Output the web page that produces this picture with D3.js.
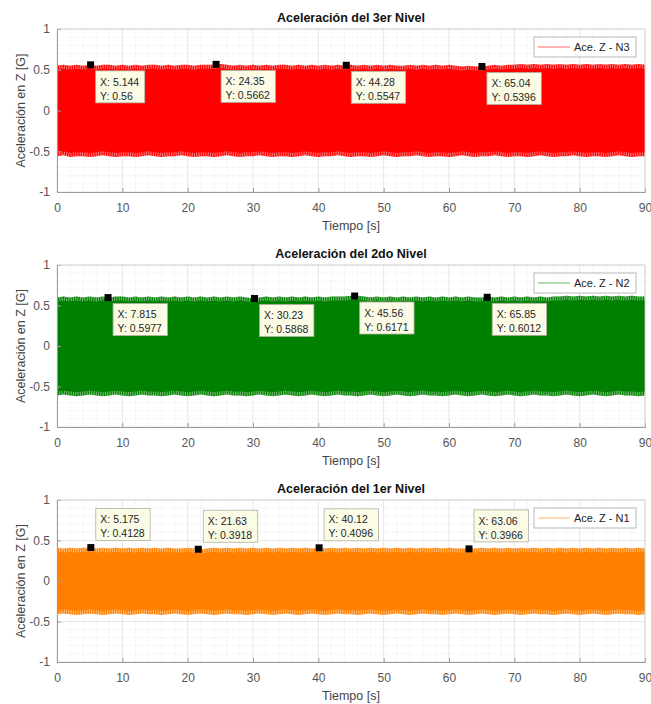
<!DOCTYPE html>
<html>
<head>
<meta charset="utf-8">
<script src="https://cdn.jsdelivr.net/npm/d3@7"></script>
<style>
  body { margin: 0; background: #fff; }
  svg text { font-family: "Liberation Sans", Arial, Helvetica, sans-serif; }
</style>
</head>
<body>
<svg id="fig" width="651" height="704"></svg>
<script>
// ---- Axis ticks and labels ----
const timeTicks = [0, 10, 20, 30, 40, 50, 60, 70, 80, 90];
const accelTicks = [-1, -0.5, 0, 0.5, 1];
const accelTickLabels = ["-1", "-0.5", "0", "0.5", "1"];
const panelTitles = ["Aceleración del 3er Nivel", "Aceleración del 2do Nivel", "Aceleración del 1er Nivel"];
const legendLabels = ["Ace. Z - N3", "Ace. Z - N2", "Ace. Z - N1"];
const xLabel = "Tiempo [s]";
const yLabel = "Aceleración en Z [G]";

// ---- Peak envelope of each record, one value per second (0..90 s) ----
const n3Upper = [
  0.55,0.56,0.55,0.56,0.55,0.56,0.55,0.56,0.56,0.55,
  0.56,0.55,0.56,0.55,0.56,0.56,0.55,0.56,0.55,0.56,
  0.56,0.55,0.56,0.56,0.56,0.57,0.56,0.55,0.56,0.55,
  0.56,0.55,0.56,0.55,0.56,0.56,0.55,0.56,0.55,0.56,
  0.55,0.56,0.55,0.56,0.55,0.56,0.55,0.56,0.55,0.56,
  0.55,0.56,0.55,0.55,0.56,0.55,0.56,0.55,0.56,0.55,
  0.56,0.55,0.54,0.55,0.54,0.54,0.55,0.56,0.55,0.56,
  0.56,0.57,0.56,0.57,0.56,0.57,0.56,0.57,0.56,0.57,
  0.56,0.57,0.56,0.57,0.56,0.57,0.56,0.57,0.56,0.57,0.56];
const n3Lower = [
  -0.56,-0.55,-0.57,-0.56,-0.56,-0.57,-0.56,-0.55,-0.56,-0.57,
  -0.56,-0.56,-0.57,-0.56,-0.55,-0.56,-0.57,-0.56,-0.56,-0.55,
  -0.56,-0.57,-0.56,-0.56,-0.57,-0.56,-0.55,-0.56,-0.57,-0.56,
  -0.56,-0.55,-0.56,-0.57,-0.56,-0.56,-0.57,-0.56,-0.55,-0.56,
  -0.57,-0.56,-0.56,-0.55,-0.56,-0.57,-0.56,-0.56,-0.57,-0.56,
  -0.55,-0.56,-0.57,-0.56,-0.56,-0.55,-0.56,-0.57,-0.56,-0.56,
  -0.57,-0.56,-0.55,-0.56,-0.57,-0.56,-0.56,-0.55,-0.56,-0.57,
  -0.56,-0.56,-0.57,-0.56,-0.55,-0.56,-0.57,-0.56,-0.56,-0.55,
  -0.56,-0.57,-0.56,-0.56,-0.57,-0.56,-0.55,-0.56,-0.57,-0.56,-0.56];
const n2Upper = [
  0.60,0.61,0.60,0.61,0.60,0.61,0.60,0.61,0.60,0.61,
  0.61,0.60,0.61,0.60,0.61,0.60,0.61,0.60,0.61,0.60,
  0.61,0.60,0.61,0.60,0.61,0.60,0.61,0.60,0.61,0.60,
  0.59,0.60,0.61,0.60,0.61,0.60,0.61,0.60,0.61,0.60,
  0.61,0.60,0.61,0.61,0.61,0.62,0.62,0.61,0.60,0.61,
  0.60,0.61,0.60,0.61,0.60,0.61,0.60,0.61,0.60,0.61,
  0.60,0.61,0.60,0.61,0.60,0.60,0.61,0.60,0.61,0.60,
  0.61,0.60,0.61,0.60,0.61,0.60,0.61,0.61,0.62,0.61,
  0.62,0.61,0.62,0.61,0.62,0.61,0.62,0.61,0.62,0.61,0.61];
const n2Lower = [
  -0.61,-0.60,-0.61,-0.62,-0.61,-0.60,-0.61,-0.62,-0.61,-0.60,
  -0.61,-0.62,-0.61,-0.60,-0.61,-0.61,-0.62,-0.61,-0.60,-0.61,
  -0.62,-0.61,-0.60,-0.61,-0.62,-0.61,-0.60,-0.61,-0.61,-0.62,
  -0.61,-0.60,-0.61,-0.62,-0.61,-0.60,-0.61,-0.62,-0.61,-0.60,
  -0.61,-0.62,-0.61,-0.60,-0.61,-0.61,-0.62,-0.61,-0.60,-0.61,
  -0.62,-0.61,-0.60,-0.61,-0.62,-0.61,-0.60,-0.61,-0.61,-0.62,
  -0.61,-0.60,-0.61,-0.62,-0.61,-0.60,-0.61,-0.62,-0.61,-0.60,
  -0.61,-0.62,-0.61,-0.60,-0.61,-0.61,-0.62,-0.61,-0.60,-0.61,
  -0.62,-0.61,-0.60,-0.61,-0.62,-0.61,-0.60,-0.61,-0.61,-0.62,-0.61];
const n1Upper = [
  0.41,0.40,0.41,0.40,0.41,0.41,0.40,0.41,0.40,0.41,
  0.40,0.41,0.40,0.41,0.40,0.41,0.40,0.41,0.40,0.40,
  0.41,0.40,0.39,0.40,0.41,0.40,0.41,0.40,0.41,0.40,
  0.41,0.40,0.41,0.40,0.41,0.40,0.41,0.40,0.41,0.40,
  0.41,0.40,0.41,0.40,0.41,0.40,0.41,0.40,0.41,0.40,
  0.41,0.40,0.41,0.40,0.41,0.40,0.41,0.40,0.41,0.40,
  0.41,0.40,0.40,0.40,0.40,0.41,0.40,0.41,0.40,0.41,
  0.40,0.41,0.40,0.41,0.40,0.41,0.40,0.41,0.40,0.41,
  0.40,0.41,0.40,0.41,0.40,0.41,0.40,0.41,0.40,0.41,0.40];
const n1Lower = [
  -0.41,-0.40,-0.41,-0.42,-0.41,-0.40,-0.41,-0.42,-0.41,-0.40,
  -0.41,-0.42,-0.41,-0.40,-0.41,-0.41,-0.42,-0.41,-0.40,-0.41,
  -0.42,-0.41,-0.40,-0.41,-0.42,-0.41,-0.40,-0.41,-0.41,-0.42,
  -0.41,-0.40,-0.41,-0.42,-0.41,-0.40,-0.41,-0.42,-0.41,-0.40,
  -0.41,-0.42,-0.41,-0.40,-0.41,-0.41,-0.42,-0.41,-0.40,-0.41,
  -0.42,-0.41,-0.40,-0.41,-0.42,-0.41,-0.40,-0.41,-0.41,-0.42,
  -0.41,-0.40,-0.41,-0.42,-0.41,-0.40,-0.41,-0.42,-0.41,-0.40,
  -0.41,-0.42,-0.41,-0.40,-0.41,-0.41,-0.42,-0.41,-0.40,-0.41,
  -0.42,-0.41,-0.40,-0.41,-0.42,-0.41,-0.40,-0.41,-0.41,-0.42,-0.41];

// ---- Data tips (peak readings) ----
const n3TipX = [5.144, 24.35, 44.28, 65.04];
const n3TipY = [0.56, 0.5662, 0.5547, 0.5396];
const n2TipX = [7.815, 30.23, 45.56, 65.85];
const n2TipY = [0.5977, 0.5868, 0.6171, 0.6012];
const n1TipX = [5.175, 21.63, 40.12, 63.06];
const n1TipY = [0.4128, 0.3918, 0.4096, 0.3966];

const seriesColors = ["#ff0000", "#008000", "#ff8000"];

const panels = [
  { title: panelTitles[0], legend: legendLabels[0], upper: n3Upper, lower: n3Lower, tipX: n3TipX, tipY: n3TipY, color: seriesColors[0], top: 29, bottom: 192, tipsAbove: false },
  { title: panelTitles[1], legend: legendLabels[1], upper: n2Upper, lower: n2Lower, tipX: n2TipX, tipY: n2TipY, color: seriesColors[1], top: 265, bottom: 427, tipsAbove: false },
  { title: panelTitles[2], legend: legendLabels[2], upper: n1Upper, lower: n1Lower, tipX: n1TipX, tipY: n1TipY, color: seriesColors[2], top: 500, bottom: 662, tipsAbove: true }
];

const svg = d3.select("#fig");
const plotLeft = 57, plotRight = 645;
const tickColor = "#555";
const axisColor = "#9a9a9a";

panels.forEach((p) => {
  const x = d3.scaleLinear().domain([0, 90]).range([plotLeft, plotRight]);
  const y = d3.scaleLinear().domain([-1, 1]).range([p.bottom, p.top]);
  const g = svg.append("g");

  // minor grid
  const minorX = d3.range(0, 91, 2).filter(v => v % 10 !== 0);
  const minorY = d3.range(-10, 11).map(v => v / 10).filter(v => Math.abs(v * 2 - Math.round(v * 2)) > 1e-9);
  g.append("g").selectAll("line").data(minorX).join("line")
    .attr("x1", d => x(d)).attr("x2", d => x(d)).attr("y1", p.top).attr("y2", p.bottom)
    .attr("stroke", "#ececec").attr("stroke-width", 0.8).attr("stroke-dasharray", "1.5 1");
  g.append("g").selectAll("line").data(minorY).join("line")
    .attr("y1", d => y(d)).attr("y2", d => y(d)).attr("x1", plotLeft).attr("x2", plotRight)
    .attr("stroke", "#ececec").attr("stroke-width", 0.8).attr("stroke-dasharray", "1.5 1");
  // major grid
  g.append("g").selectAll("line").data(timeTicks).join("line")
    .attr("x1", d => x(d)).attr("x2", d => x(d)).attr("y1", p.top).attr("y2", p.bottom)
    .attr("stroke", "#dedede").attr("stroke-width", 0.8);
  g.append("g").selectAll("line").data(accelTicks).join("line")
    .attr("y1", d => y(d)).attr("y2", d => y(d)).attr("x1", plotLeft).attr("x2", plotRight)
    .attr("stroke", "#dedede").attr("stroke-width", 0.8);

  // signal band between the peak envelopes
  const pts = p.upper.map((u, i) => ({ t: i, hi: u, lo: p.lower[i] }));
  const area = d3.area().x(d => x(d.t)).y0(d => y(d.lo)).y1(d => y(d.hi));
  g.append("path").datum(pts).attr("d", area).attr("fill", p.color);

  // unresolved oscillation peaks along the envelope edges
  const edgeHi = d3.line().x(d => x(d.t)).y(d => y(d.hi) + 2);
  const edgeLo = d3.line().x(d => x(d.t)).y(d => y(d.lo) - 2);
  [edgeHi, edgeLo].forEach(gen => {
    g.append("path").datum(pts).attr("d", gen)
      .attr("fill", "none").attr("stroke", "#fff").attr("stroke-opacity", 0.5)
      .attr("stroke-width", 4).attr("stroke-dasharray", "1 1.3");
  });

  // axes
  const xAxis = d3.axisBottom(x).tickValues(timeTicks).tickSize(-4).tickPadding(11).tickFormat(d3.format("d"));
  const gx = g.append("g").attr("transform", `translate(0,${p.bottom})`).call(xAxis);
  const yAxis = d3.axisLeft(y).tickValues(accelTicks).tickSize(-4).tickPadding(7)
    .tickFormat((d, i) => accelTickLabels[i]);
  const gy = g.append("g").attr("transform", `translate(${plotLeft},0)`).call(yAxis);
  [gx, gy].forEach(ax => {
    ax.select(".domain").attr("stroke", axisColor);
    ax.selectAll(".tick line").attr("stroke", axisColor);
    ax.selectAll(".tick text").attr("fill", tickColor).style("font-size", "12px");
  });
  // box top/right
  g.append("line").attr("x1", plotLeft).attr("x2", plotRight).attr("y1", p.top).attr("y2", p.top)
    .attr("stroke", "#d0d0d0").attr("stroke-width", 0.8);
  g.append("line").attr("x1", plotRight).attr("x2", plotRight).attr("y1", p.top).attr("y2", p.bottom)
    .attr("stroke", "#d0d0d0").attr("stroke-width", 0.8);

  // title and axis labels
  g.append("text").attr("x", (plotLeft + plotRight) / 2).attr("y", p.top - 7)
    .attr("text-anchor", "middle").style("font-size", "12.5px").style("font-weight", "bold")
    .attr("fill", "#111").text(p.title);
  g.append("text").attr("x", (plotLeft + plotRight) / 2).attr("y", p.bottom + 38)
    .attr("text-anchor", "middle").style("font-size", "12.5px").attr("fill", "#444").text(xLabel);
  g.append("text").attr("transform", `translate(21,${(p.top + p.bottom) / 2}) rotate(-90)`)
    .attr("text-anchor", "middle").attr("dy", "0.35em").style("font-size", "12.5px")
    .attr("fill", "#444").text(yLabel);

  // legend
  const lg = g.append("g").attr("transform", `translate(${plotRight - 111},${p.top + 8})`);
  lg.append("rect").attr("width", 102).attr("height", 20).attr("fill", "#fff")
    .attr("stroke", "#a8a8a8").attr("stroke-width", 0.8);
  lg.append("line").attr("x1", 4).attr("x2", 36).attr("y1", 10).attr("y2", 10)
    .attr("stroke", p.color).attr("stroke-width", 0.6);
  lg.append("text").attr("x", 40).attr("y", 10).attr("dy", "0.35em")
    .style("font-size", "11px").attr("fill", "#222").text(p.legend);

  // data tips
  p.tipX.forEach((tx, i) => {
    const mx = x(tx), my = y(p.tipY[i]);
    const tg = g.append("g");
    const lines = ["X: " + tx, "Y: " + p.tipY[i]];
    const boxH = 32;
    const bx = mx + 5;
    const by = p.tipsAbove ? my - 7 - boxH : my + 6;
    const rect = tg.append("rect").attr("x", bx).attr("y", by).attr("height", boxH)
      .attr("fill", "#fbfbe6").attr("stroke", "#b0b0a0").attr("stroke-width", 0.8);
    let maxW = 0;
    lines.forEach((s, k) => {
      const t = tg.append("text").attr("x", bx + 4.5).attr("y", by + 11 + k * 14).attr("dy", "0.35em")
        .style("font-size", "10.5px").attr("fill", "#262626").text(s);
      maxW = Math.max(maxW, t.node().getComputedTextLength());
    });
    rect.attr("width", maxW + 10);
    tg.append("rect").attr("x", mx - 3.5).attr("y", my - 3.5).attr("width", 7).attr("height", 7)
      .attr("fill", "#000");
  });
});
</script>
</body>
</html>
